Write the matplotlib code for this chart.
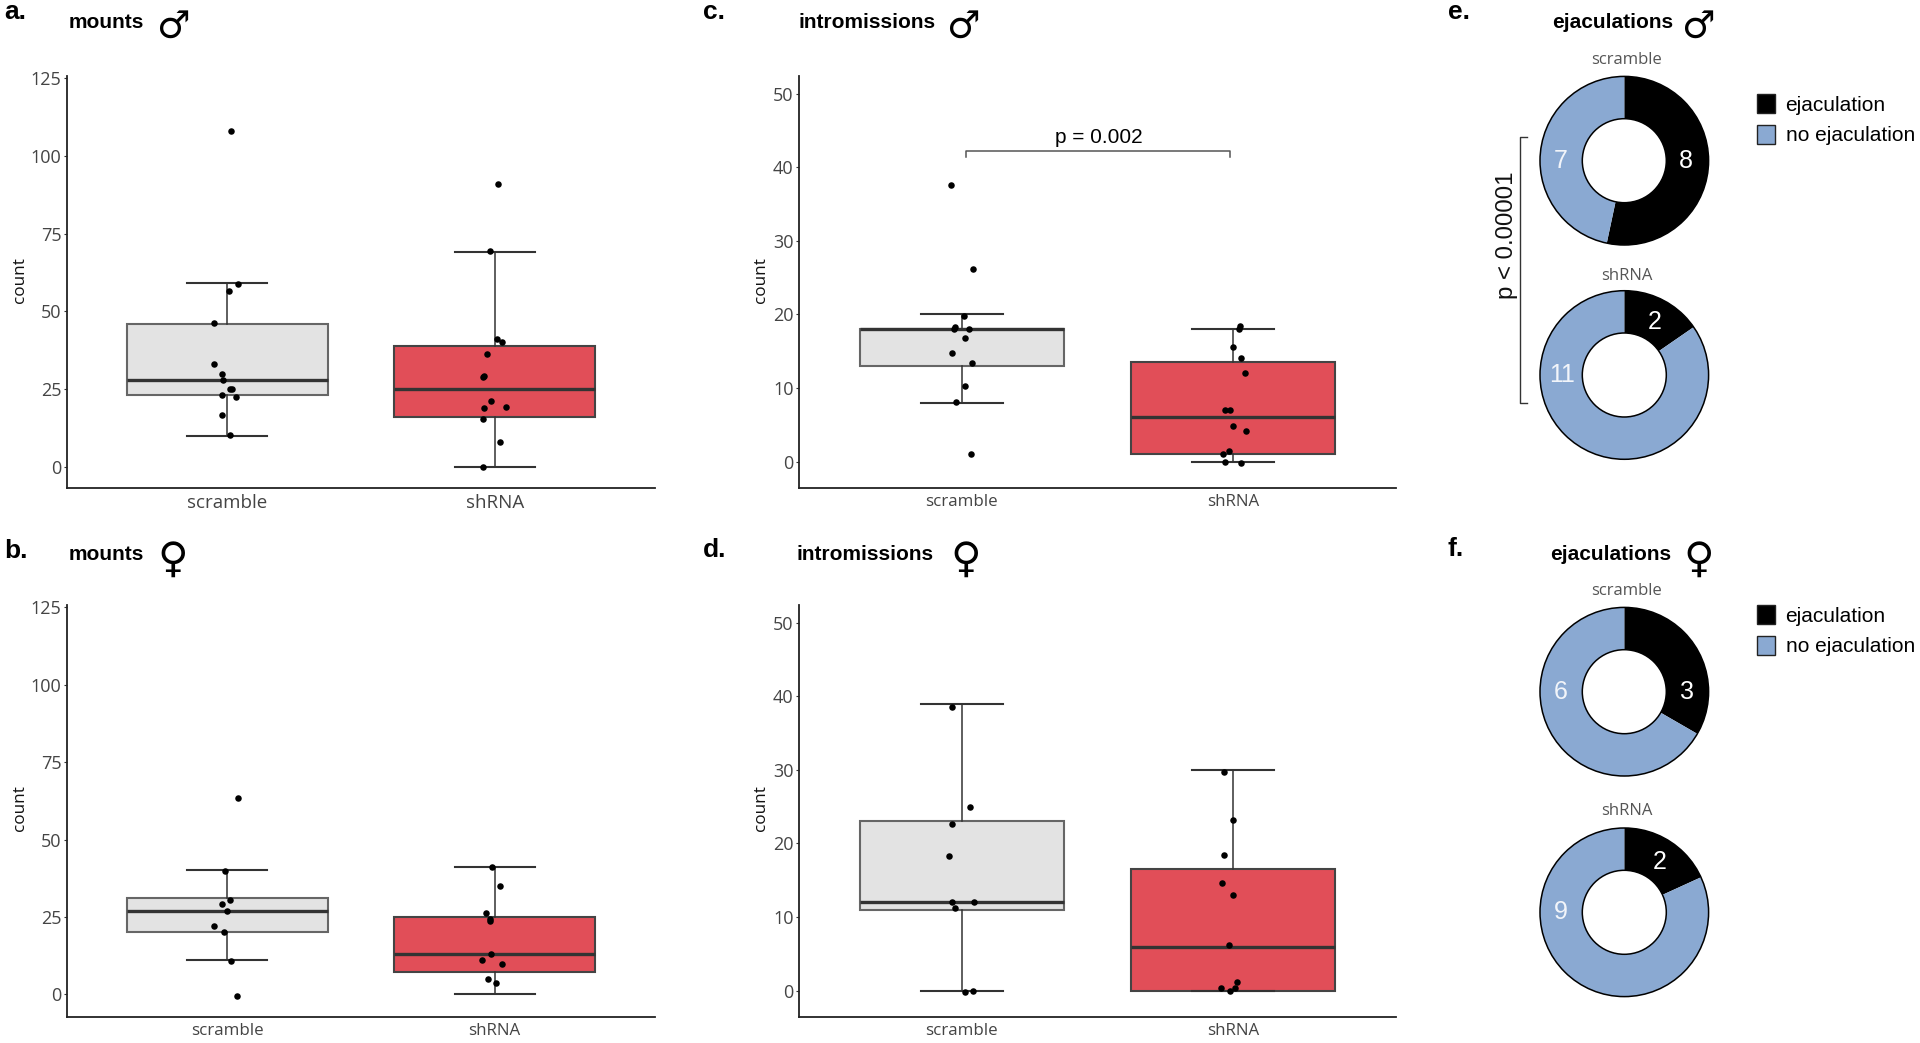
import matplotlib
matplotlib.use("Agg")
import matplotlib.pyplot as plt
from matplotlib.lines import Line2D
from matplotlib.patches import Circle, Patch

W, H = 1920, 1043
GROUPS = ["scramble", "shRNA"]

# boxes: whisker low, q1, median, q3, whisker high
mounts_m_boxes = [(10, 23, 28, 46, 59), (0, 16, 25, 39, 69)]
mounts_f_boxes = [(11, 20, 27, 31, 40), (0, 7.3, 13, 25, 41)]
intro_m_boxes = [(8, 13, 18, 18, 20), (0, 1, 6, 13.5, 18)]
intro_f_boxes = [(0, 11, 12, 23, 39), (0, 0, 6, 16.5, 30)]

# points, with their horizontal jitter
mounts_m_scr = [108, 58.8, 56.5, 46.3, 33, 29.8, 28, 24.9, 24.9, 23.2, 22.5, 16.5, 10.2]
mounts_m_scr_j = [.013, .039, .005, -.05, -.049, -.021, -.016, .011, .019, -.021, .031, -.019, .011]
mounts_m_sh = [90.9, 69.3, 41.1, 40, 36.4, 29.3, 29, 21, 18.8, 19.1, 15.3, 7.9, -0.2]
mounts_m_sh_j = [.013, -.019, .008, .029, -.029, -.041, -.042, -.015, -.039, .042, -.044, .019, -.045]

mounts_f_scr = [63.3, 39.8, 30.6, 29.3, 26.8, 22.2, 20.1, 10.8, -0.5]
mounts_f_scr_j = [.039, -.008, .010, -.021, -.003, -.050, -.011, .013, .037]
mounts_f_sh = [41.2, 35, 26.3, 24.3, 23.8, 13.1, 11, 9.7, 5, 3.8]
mounts_f_sh_j = [-.008, .021, -.032, -.016, -.019, -.015, -.049, .028, -.026, .006]

intro_m_scr = [37.6, 26.2, 19.8, 18.3, 18, 18, 16.8, 14.7, 13.4, 10.3, 8.1, 1]
intro_m_scr_j = [-.039, .041, .007, -.025, -.027, .025, .012, -.035, .039, .012, -.020, .032]
intro_m_sh = [18.4, 18, 15.6, 14.1, 12.1, 7, 7, 4.9, 4.2, 1.4, 1.1, -0.1, -0.2]
intro_m_sh_j = [.024, .022, -.002, .027, .042, -.030, -.010, -.002, .046, -.017, -.039, -.029, .030]

intro_f_scr = [38.5, 25, 22.7, 18.3, 12.1, 12, 11.2, 0, -0.2]
intro_f_scr_j = [-.035, .030, -.035, -.047, -.035, .046, -.024, .042, .012]
intro_f_sh = [29.7, 23.2, 18.4, 14.7, 13, 6.2, 1.2, 0.4, 0.4, 0]
intro_f_sh_j = [-.032, -.002, -.032, -.042, -.002, -.015, .015, -.046, .007, -.010]

# ejaculation, no ejaculation
ejac_m_scr = [8, 7]
ejac_m_sh = [2, 11]
ejac_f_scr = [3, 6]
ejac_f_sh = [2, 9]
LEGEND_LABELS = ["ejaculation", "no ejaculation"]

mounts_ticks = [0, 25, 50, 75, 100, 125]
intro_ticks = [0, 10, 20, 30, 40, 50]

GREY = "#E3E3E3"
RED = "#E14E58"
BLUE = "#8AA9D2"
SANS = ["Liberation Sans", "DejaVu Sans"]

plt.rcParams["font.family"] = ["Open Sans", "DejaVu Sans"]

fig = plt.figure(figsize=(W / 100, H / 100), dpi=100, facecolor="white")


def axes_px(left, top, right, bottom):
    return fig.add_axes([left / W, 1 - bottom / H, (right - left) / W, (bottom - top) / H])


def text_px(x, y, s, **kw):
    kw.setdefault("va", "center")
    return fig.text(x / W, 1 - y / H, s, **kw)


def line_px(xs, ys, **kw):
    fig.add_artist(Line2D([x / W for x in xs], [1 - y / H for y in ys], **kw))


def box_panel(pos, boxes, scr, scr_j, sh, sh_j, ticks, ylim, label_size):
    ax = axes_px(*pos)
    stats = [dict(whislo=b[0], q1=b[1], med=b[2], q3=b[3], whishi=b[4], fliers=[]) for b in boxes]
    for i, (st, col, edge) in enumerate(zip(stats, [GREY, RED], ["#666666", "#444444"])):
        ax.bxp([st], positions=[i + 1], widths=0.75, capwidths=0.3, patch_artist=True,
               showfliers=False, manage_ticks=False,
               boxprops=dict(facecolor=col, edgecolor=edge, linewidth=1.5),
               medianprops=dict(color="#333333", linewidth=2.4, solid_capstyle="butt"),
               whiskerprops=dict(color="#333333", linewidth=1.1),
               capprops=dict(color="#333333", linewidth=1.5))
    ax.scatter([1 + j for j in scr_j], scr, s=22, color="black", zorder=5, linewidths=0)
    ax.scatter([2 + j for j in sh_j], sh, s=22, color="black", zorder=5, linewidths=0)
    ax.set_xlim(0.4, 2.6)
    ax.set_ylim(*ylim)
    ax.set_xticks([1, 2], GROUPS, fontsize=label_size, color="#444444")
    ax.set_yticks(ticks, [str(t) for t in ticks], fontsize=13, color="#444444")
    ax.tick_params(axis="x", length=0, pad=4.5)
    ax.tick_params(axis="y", length=2.5, width=0.8, pad=1.5, color="#333333")
    for side in ["top", "right"]:
        ax.spines[side].set_visible(False)
    for side in ["left", "bottom"]:
        ax.spines[side].set_linewidth(1.3)
        ax.spines[side].set_color("#222222")
    return ax


def donut(cx, cy, values, pos_a, pos_b):
    r = 84.3
    hole = 42
    half = r * 1.02
    ax = axes_px(cx - half, cy - half, cx + half, cy + half)
    ax.pie(values, colors=["black", BLUE], startangle=90, counterclock=False,
           wedgeprops=dict(width=1 - hole / r, edgecolor="none"))
    ax.add_patch(Circle((0, 0), 1, fill=False, edgecolor="black", linewidth=1.1))
    ax.add_patch(Circle((0, 0), hole / r, fill=False, edgecolor="black", linewidth=1.1))
    ax.set_xlim(-1.02, 1.02)
    ax.set_ylim(-1.02, 1.02)
    ax.text(*pos_a, str(values[0]), color="white", fontsize=18, ha="center", va="center", family=SANS)
    ax.text(*pos_b, str(values[1]), color="#F2F5FA", fontsize=18, ha="center", va="center", family=SANS)


def heading(letter, lx, ly, title, tx, ty, sym, sx, sy, sym_size):
    text_px(lx, ly, letter, fontsize=19, fontweight="bold", family=SANS)
    text_px(tx, ty, title, fontsize=15, fontweight="bold", family=SANS)
    text_px(sx, sy, sym, fontsize=sym_size, family="DejaVu Sans", ha="center", color="black")


def legend(top):
    handles = [Patch(facecolor="black", edgecolor="#222222"), Patch(facecolor=BLUE, edgecolor="#222222")]
    fig.legend(handles, LEGEND_LABELS, loc="upper left", bbox_to_anchor=(1757 / W, 1 - top / H),
               frameon=False, borderpad=0, borderaxespad=0, handlelength=0.87, handleheight=1.05,
               handletextpad=0.5, labelspacing=0.47, prop=dict(family=SANS, size=15))


# top row, then bottom row
box_panel((67, 76, 655, 487.7), mounts_m_boxes, mounts_m_scr, mounts_m_scr_j, mounts_m_sh, mounts_m_sh_j,
          mounts_ticks, (-6.76, 125.75), 13.5)
ax_c = box_panel((799, 76, 1396, 487.7), intro_m_boxes, intro_m_scr, intro_m_scr_j, intro_m_sh, intro_m_sh_j,
                 intro_ticks, (-3.54, 52.4), 12.2)
box_panel((67, 605, 655, 1016.7), mounts_f_boxes, mounts_f_scr, mounts_f_scr_j, mounts_f_sh, mounts_f_sh_j,
          mounts_ticks, (-7.2, 125.7), 12.2)
box_panel((799, 605, 1396, 1016.7), intro_f_boxes, intro_f_scr, intro_f_scr_j, intro_f_sh, intro_f_sh_j,
          intro_ticks, (-3.53, 52.4), 12.2)

ax_c.plot([1.015, 1.015, 1.988, 1.988], [41.4, 42.2, 42.2, 41.4], color="#555555", linewidth=1.1)
ax_c.text(1.506, 44.1, "p = 0.002", fontsize=15, ha="center", va="center", family=SANS)

for x, y in [(20, 280), (20, 808), (761, 280), (761, 808)]:
    text_px(x, y, "count", fontsize=12.3, rotation=90, ha="center", color="#111111")

heading("a.", 4, 12, "mounts", 68.5, 23, "\u2642", 173, 28, 27)
heading("b.", 4, 551, "mounts", 68.5, 554, "\u2640", 173, 560, 30)
heading("c.", 703, 12, "intromissions", 799, 23, "\u2642", 963, 28, 27)
heading("d.", 703, 550, "intromissions", 797, 554, "\u2640", 966, 560, 30)
heading("e.", 1448, 12, "ejaculations", 1552, 23, "\u2642", 1698, 28, 27)
heading("f.", 1448, 549, "ejaculations", 1550, 554, "\u2640", 1699, 560, 30)

donut(1624.3, 160.7, ejac_m_scr, (0.73, 0), (-0.75, 0))
donut(1624.3, 375, ejac_m_sh, (0.356, 0.633), (-0.735, 0))
donut(1624.3, 691.7, ejac_f_scr, (0.74, 0), (-0.75, 0))
donut(1624.3, 912.3, ejac_f_sh, (0.42, 0.60), (-0.75, 0))

for y, name in [(60, "scramble"), (276, "shRNA"), (590.7, "scramble"), (811, "shRNA")]:
    text_px(1627, y, name, fontsize=12, ha="center", color="#555555")

legend(94)
legend(605)

# significance bracket between the two male donuts
line_px([1527, 1520, 1520, 1527], [137, 137, 403, 403], color="#333333", linewidth=1)
text_px(1507, 235, "p < 0.00001", fontsize=17.3, rotation=90, ha="center", family=SANS, color="#111111")

fig.savefig("out.png", dpi=100, facecolor="white")
